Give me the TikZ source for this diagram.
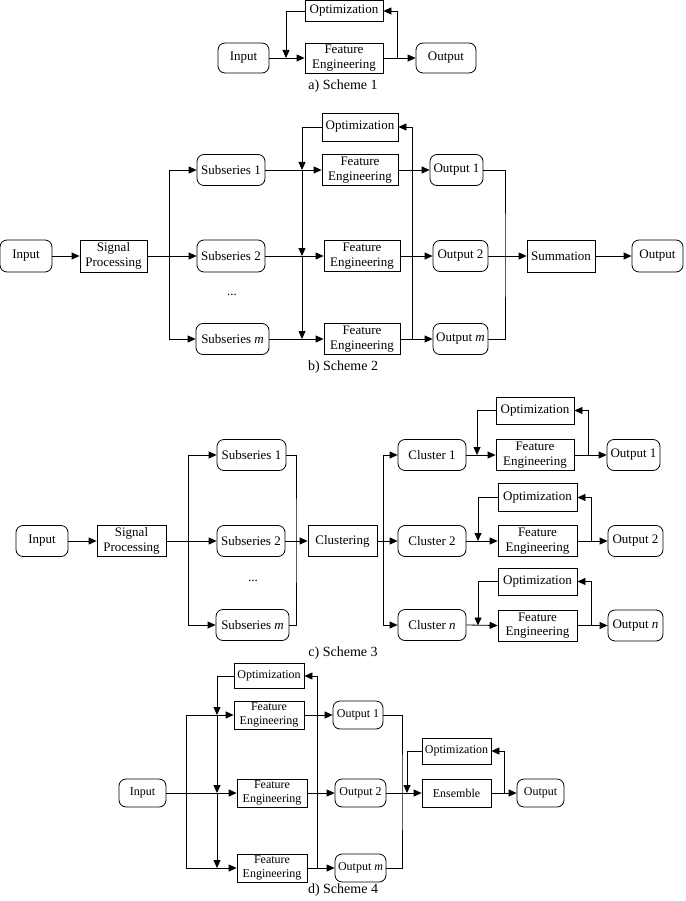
\documentclass[tikz,border=0pt]{standalone}
\usepackage{fontspec}
\setmainfont{Liberation Serif}
\usetikzlibrary{arrows.meta}
\begin{document}
\begin{tikzpicture}[x=1pt,y=-1pt,
  every node/.style={font=\fontsize{13}{14.5}\selectfont, inner sep=0pt, align=center},
  box/.style={draw, rectangle, line width=0.8pt},
  rbox/.style={draw, rectangle, rounded corners=7pt, line width=0.8pt},
  small/.style={font=\fontsize{12}{13.5}\selectfont},
  captext/.style={font=\fontsize{14}{16}\selectfont},
  ln/.style={line width=0.8pt},
  arr/.style={line width=0.8pt, -{Triangle[length=8pt,width=7pt]}}]
\useasboundingbox (0,0) rectangle (685,901);

% ---------------- Scheme 1
\node[box, minimum width=78, minimum height=21] (a_opt) at (344,11) {Optimization};
\node[box, minimum width=78, minimum height=30] (a_fe) at (344,58) {Feature\\Engineering};
\node[rbox, minimum width=51, minimum height=30] (a_in) at (243.5,58) {Input};
\node[rbox, minimum width=60, minimum height=30] (a_out) at (446,58) {Output};
\coordinate (a_j) at (286,58);
\coordinate (a_k) at (397,58);
\draw[arr] (a_in) -- (a_fe);
\draw[arr] (a_opt.west) -| (a_j);
\draw[arr] (a_fe) -- (a_out);
\draw[arr] (a_k) |- (a_opt.east);
\node[captext] (a_cap) at (343,86) {a) Scheme 1};

% ---------------- Scheme 2
\node[rbox, minimum width=52, minimum height=32] (b_in) at (26,256) {Input};
\node[box, minimum width=67, minimum height=32] (b_sp) at (113.5,256) {Signal\\Processing};
\node[rbox, minimum width=68, minimum height=31] (b_s1) at (231,170) {Subseries 1};
\node[rbox, minimum width=68, minimum height=32] (b_s2) at (231,256) {Subseries 2};
\node[rbox, minimum width=73, minimum height=31] (b_sm) at (232.5,339) {Subseries \textit{m}};
\node (b_dots) at (232,295) {...};
\node[box, minimum width=76, minimum height=28] (b_opt) at (360,127) {Optimization};
\node[box, minimum width=76, minimum height=31] (b_fe1) at (360,170) {Feature\\Engineering};
\node[box, minimum width=76, minimum height=31] (b_fe2) at (362,256) {Feature\\Engineering};
\node[box, minimum width=76, minimum height=31] (b_fem) at (362,339) {Feature\\Engineering};
\node[rbox, minimum width=53, minimum height=31] (b_o1) at (456.5,170) {Output 1};
\node[rbox, minimum width=55, minimum height=31] (b_o2) at (460.5,256) {Output 2};
\node[rbox, minimum width=55, minimum height=31] (b_om) at (460.5,339) {Output \textit{m}};
\node[box, minimum width=68, minimum height=32] (b_sum) at (561,256) {Summation};
\node[rbox, minimum width=51, minimum height=32] (b_out) at (657.5,256) {Output};
\coordinate (b_br) at (169,256);
\coordinate (b_j1) at (302,170);
\coordinate (b_j2) at (302,256);
\coordinate (b_j3) at (302,339);
\coordinate (b_f) at (412,339);
\coordinate (b_m) at (505,256);
\draw[arr] (b_in) -- (b_sp);
\draw[arr] (b_sp) -- (b_s2);
\draw[arr] (b_br) |- (b_s1);
\draw[arr] (b_br) |- (b_sm);
\draw[arr] (b_s1) -- (b_fe1);
\draw[arr] (b_s2) -- (b_fe2);
\draw[arr] (b_sm) -- (b_fem);
\draw[arr] (b_opt.west) -| (b_j1);
\draw[arr] (b_j1) -- (b_j2);
\draw[arr] (b_j2) -- (b_j3);
\draw[arr] (b_fe1) -- (b_o1);
\draw[arr] (b_fe2) -- (b_o2);
\draw[arr] (b_fem) -- (b_om);
\draw[arr] (b_f) |- (b_opt.east);
\draw[ln] (b_o1.east) -| (b_m) |- (b_om.east);
\draw[arr] (b_o2) -- (b_sum);
\draw[arr] (b_sum) -- (b_out);
\node[captext] (b_cap) at (343,367) {b) Scheme 2};

% ---------------- Scheme 3
\node[rbox, minimum width=52, minimum height=31] (c_in) at (42,541) {Input};
\node[box, minimum width=69, minimum height=31] (c_sp) at (131.5,541) {Signal\\Processing};
\node[rbox, minimum width=69, minimum height=31] (c_s1) at (251.5,455) {Subseries 1};
\node[rbox, minimum width=68, minimum height=31] (c_s2) at (251,541) {Subseries 2};
\node[rbox, minimum width=73, minimum height=31] (c_sm) at (252.5,625) {Subseries \textit{m}};
\node (c_dots) at (253,581) {...};
\node[box, minimum width=69, minimum height=31] (c_cl) at (342.5,541) {Clustering};
\node[rbox, minimum width=68, minimum height=31] (c_c1) at (432,455) {Cluster 1};
\node[rbox, minimum width=68, minimum height=31] (c_c2) at (432,541) {Cluster 2};
\node[rbox, minimum width=68, minimum height=31] (c_cn) at (432,625) {Cluster \textit{n}};
\node[box, minimum width=78, minimum height=27] (c_opt1) at (535,410.5) {Optimization};
\node[box, minimum width=78, minimum height=31] (c_fe1) at (535,455) {Feature\\Engineering};
\node[rbox, minimum width=53, minimum height=31] (c_o1) at (633.5,455) {Output 1};
\node[box, minimum width=79, minimum height=28] (c_opt2) at (537.5,497.5) {Optimization};
\node[box, minimum width=79, minimum height=31] (c_fe2) at (537.5,541) {Feature\\Engineering};
\node[rbox, minimum width=55, minimum height=31] (c_o2) at (635.5,541) {Output 2};
\node[box, minimum width=79, minimum height=27] (c_optn) at (537.5,581.5) {Optimization};
\node[box, minimum width=79, minimum height=31] (c_fen) at (537.5,625.5) {Feature\\Engineering};
\node[rbox, minimum width=55, minimum height=31] (c_on) at (635.5,625.5) {Output \textit{n}};
\coordinate (c_br) at (188,541);
\coordinate (c_m) at (296,541);
\coordinate (c_br2) at (383,541);
\coordinate (c_j1) at (477,455);
\coordinate (c_r1) at (588,455);
\coordinate (c_j2) at (478,541);
\coordinate (c_r2) at (591,541);
\coordinate (c_jn) at (478,625.5);
\coordinate (c_rn) at (591,625.5);
\draw[arr] (c_in) -- (c_sp);
\draw[arr] (c_sp) -- (c_s2);
\draw[arr] (c_br) |- (c_s1);
\draw[arr] (c_br) |- (c_sm);
\draw[ln] (c_s1.east) -| (c_m) |- (c_sm.east);
\draw[arr] (c_s2) -- (c_cl);
\draw[arr] (c_cl) -- (c_c2);
\draw[arr] (c_br2) |- (c_c1);
\draw[arr] (c_br2) |- (c_cn);
\draw[arr] (c_c1) -- (c_fe1);
\draw[arr] (c_opt1.west) -| (c_j1);
\draw[arr] (c_fe1) -- (c_o1);
\draw[arr] (c_r1) |- (c_opt1.east);
\draw[arr] (c_c2) -- (c_fe2);
\draw[arr] (c_opt2.west) -| (c_j2);
\draw[arr] (c_fe2) -- (c_o2);
\draw[arr] (c_r2) |- (c_opt2.east);
\draw[arr] (c_cn.east) -- (c_fen.west);
\draw[arr] (c_optn.west) -| (c_jn);
\draw[arr] (c_fen.east) -- (c_on.west);
\draw[arr] (c_rn) |- (c_optn.east);
\node[captext] (c_cap) at (343,653) {c) Scheme 3};

% ---------------- Scheme 4
\node[box, small, minimum width=70, minimum height=25] (d_opt) at (269,676) {Optimization};
\node[box, small, minimum width=70, minimum height=28] (d_fe1) at (269,715) {Feature\\Engineering};
\node[box, small, minimum width=70, minimum height=28] (d_fe2) at (272,793) {Feature\\Engineering};
\node[box, small, minimum width=70, minimum height=28] (d_fem) at (272,868) {Feature\\Engineering};
\node[rbox, small, minimum width=47, minimum height=28] (d_in) at (142.5,793) {Input};
\node[rbox, small, minimum width=50, minimum height=28] (d_o1) at (358,715) {Output 1};
\node[rbox, small, minimum width=51, minimum height=28] (d_o2) at (360.5,793) {Output 2};
\node[rbox, small, minimum width=51, minimum height=28] (d_om) at (360.5,868) {Output \textit{m}};
\node[box, small, minimum width=69, minimum height=26] (d_eopt) at (456.5,751) {Optimization};
\node[box, small, minimum width=69, minimum height=28] (d_ens) at (456.5,793) {Ensemble};
\node[rbox, small, minimum width=47, minimum height=28] (d_out) at (540.5,793) {Output};
\coordinate (d_br) at (186,793);
\coordinate (d_j1) at (217,715);
\coordinate (d_j2) at (217,793);
\coordinate (d_j3) at (217,868);
\coordinate (d_f) at (317,868);
\coordinate (d_m) at (402,793);
\coordinate (d_ej) at (407,793);
\coordinate (d_er) at (504,793);
\draw[arr] (d_in) -- (d_fe2);
\draw[arr] (d_br) |- (d_fe1);
\draw[arr] (d_br) |- (d_fem);
\draw[arr] (d_opt.west) -| (d_j1);
\draw[arr] (d_j1) -- (d_j2);
\draw[arr] (d_j2) -- (d_j3);
\draw[arr] (d_fe1) -- (d_o1);
\draw[arr] (d_fe2) -- (d_o2);
\draw[arr] (d_fem) -- (d_om);
\draw[arr] (d_f) |- (d_opt.east);
\draw[ln] (d_o1.east) -| (d_m) |- (d_om.east);
\draw[arr] (d_o2) -- (d_ens);
\draw[arr] (d_eopt.west) -| (d_ej);
\draw[arr] (d_ens) -- (d_out);
\draw[arr] (d_er) |- (d_eopt.east);
\node[captext] (d_cap) at (343,890) {d) Scheme 4};
\end{tikzpicture}
\end{document}
